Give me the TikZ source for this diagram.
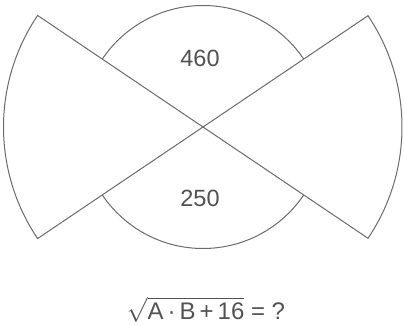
\documentclass[tikz,border=0pt]{standalone}
\usepackage{fontspec}
\setmainfont{Liberation Sans}
\begin{document}
\begin{tikzpicture}[x=1pt,y=1pt,
  shape line/.style={draw=black!58, line width=1pt, fill=white, line join=miter},
  num/.style={text=black!68, font=\fontsize{23.5}{27}\selectfont, inner sep=0pt}]
\useasboundingbox (0,0) rectangle (404,-324);
\coordinate (C) at (203,-127);
% circle
\draw[shape line] (C) circle[radius=121.5];
% left sector
\draw[shape line] (C) -- ++(146:199.5) arc[start angle=146, end angle=214, radius=199.5] -- cycle;
% right sector
\draw[shape line] (C) -- ++(-34:199) arc[start angle=-34, end angle=34, radius=199] -- cycle;
\node[num] (top) at (200,-58) {460};
\node[num] (bot) at (200,-198) {250};
\node[num, anchor=base, font=\fontsize{24}{28}\selectfont] (eq) at (206,-319)
  {$\sqrt{\mbox{A\,·\,B\,+\,16}}$ = ?};
\end{tikzpicture}
\end{document}
